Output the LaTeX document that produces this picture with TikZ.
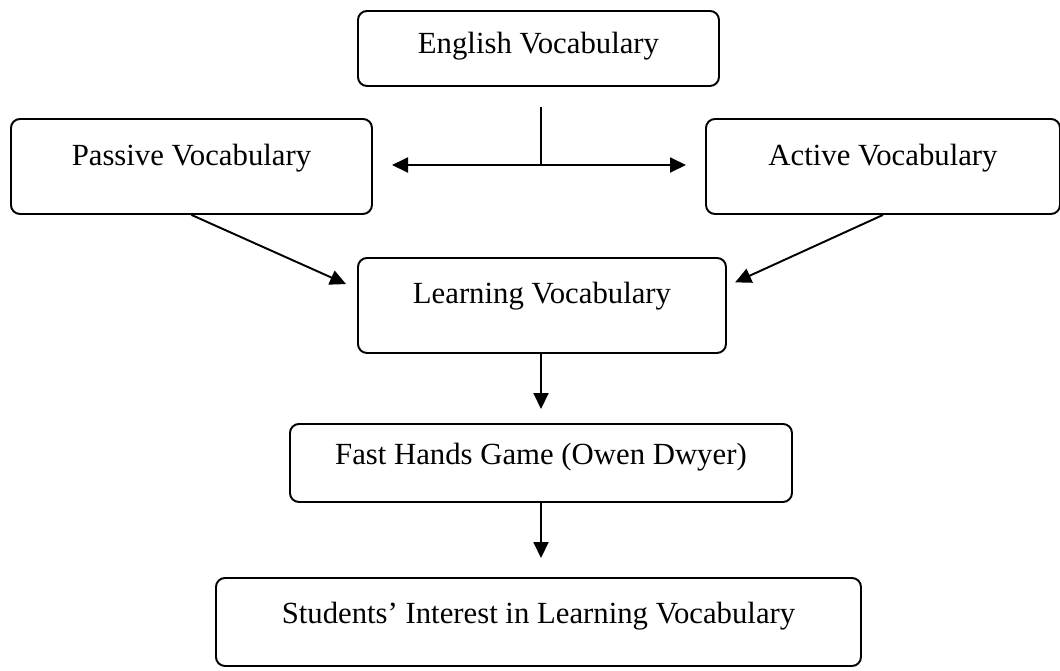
\documentclass[tikz,border=0pt]{standalone}
\usepackage{fontspec}
\setmainfont{Liberation Serif}
\usetikzlibrary{arrows.meta,calc}
\newdimen\pxu \pxu=0.02cm
\tikzset{
  box/.style={draw, line width=1.1pt, rounded corners=9\pxu, inner xsep=0pt, inner ysep=0pt,
    anchor=north west, font=\fontsize{17.5}{21}\selectfont},
  arr/.style={line width=1.1pt, -{Triangle[length=0.32cm,width=0.3cm]}},
  darr/.style={line width=1.1pt, {Triangle[length=0.32cm,width=0.3cm]}-{Triangle[length=0.32cm,width=0.3cm]}},
  thinline/.style={line width=0.6pt}
}
\begin{document}
\begin{tikzpicture}[x=0.02cm,y=-0.02cm]
\useasboundingbox (0,0) rectangle (1060,670);
\node[box, minimum width=361\pxu, text height=43\pxu, text depth=32\pxu] (eng) at (357,10) {English Vocabulary};
\node[box, minimum width=361\pxu, text height=47\pxu, text depth=48\pxu] (pas) at (10,118) {Passive Vocabulary};
\node[box, minimum width=354\pxu, text height=47\pxu, text depth=48\pxu] (act) at (705,118) {Active Vocabulary};
\node[box, minimum width=368\pxu, text height=46\pxu, text depth=49\pxu] (lrn) at (357,257) {Learning Vocabulary};
\node[box, minimum width=502\pxu, text height=41\pxu, text depth=37\pxu] (fast) at (289,423) {Fast Hands Game (Owen Dwyer)};
\node[box, minimum width=645\pxu, text height=46\pxu, text depth=42\pxu] (stu) at (215,577) {Students’ Interest in Learning Vocabulary};
\coordinate (vt) at (541,107);
\coordinate (vb) at (541,165);
\coordinate (hl) at (392,165);
\coordinate (hr) at (686,165);
\draw[thinline] (vt) -- (vb);
\draw[darr] (hl) -- (hr);
\draw[arr, shorten >=0.24cm] (pas.south) -- ($(lrn.north west)!0.33!(lrn.south west)$);
\draw[arr, shorten >=0.18cm] (act.south) -- ($(lrn.north east)!0.30!(lrn.south east)$);
\draw[arr, shorten >=0.28cm] (lrn.south -| vb) -- (fast.north -| vb);
\draw[arr, shorten >=0.38cm] (fast.south -| vb) -- (stu.north -| vb);
\end{tikzpicture}
\end{document}
